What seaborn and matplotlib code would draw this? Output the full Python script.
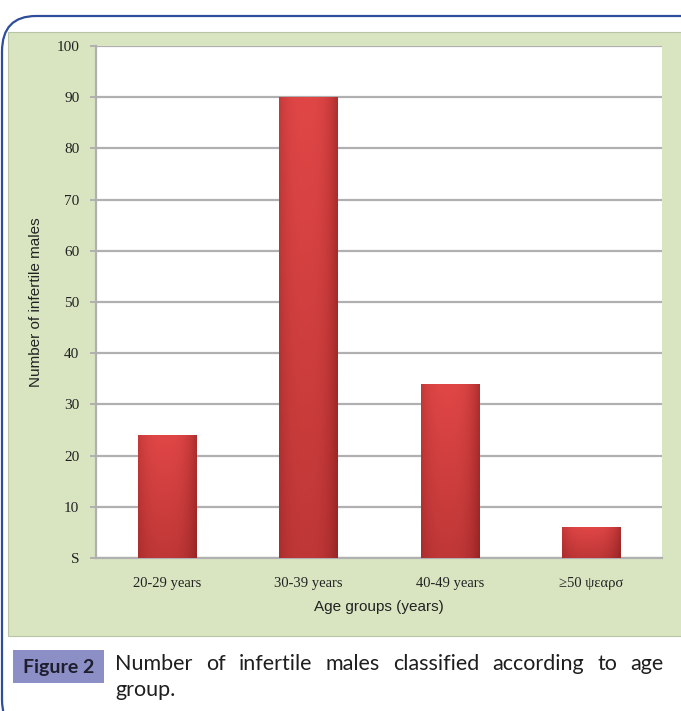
import numpy as np
import pandas as pd
import matplotlib
matplotlib.use("Agg")
import matplotlib.pyplot as plt
from matplotlib.patches import FancyBboxPatch, Rectangle
import seaborn as sns

# chart data
age_groups = ["20-29 years", "30-39 years", "40-49 years", "\u226550 \u03c8\u03b5\u03b1\u03c1\u03c3"]
infertile_males = [24, 90, 34, 6]
y_ticks = [0, 10, 20, 30, 40, 50, 60, 70, 80, 90, 100]
y_tick_labels = ["S", "10", "20", "30", "40", "50", "60", "70", "80", "90", "100"]

df = pd.DataFrame({"group": age_groups, "count": infertile_males})

sns.set_theme(style="white")
plt.rcParams["font.family"] = ["Liberation Serif", "DejaVu Serif"]

fig = plt.figure(figsize=(6.81, 7.11), dpi=100)
W, H = 681, 711

def fx(px):
    return px / W

def fy(py):
    return 1 - py / H

# outer rounded blue frame
frame = FancyBboxPatch((fx(2), fy(735)), fx(720), fy(16) - fy(735),
                       boxstyle="round,pad=0,rounding_size=0.05",
                       transform=fig.transFigure, facecolor="white",
                       edgecolor="#2e4d9c", linewidth=1.6, zorder=0)
fig.patches.append(frame)

# green chart panel
panel = Rectangle((fx(8), fy(636)), fx(690), fy(32) - fy(636),
                  transform=fig.transFigure, facecolor="#d9e5c1",
                  edgecolor="#b8c4a6", linewidth=0.8, zorder=1)
fig.patches.append(panel)

ax = fig.add_axes([fx(96), fy(558), fx(662) - fx(96), fy(46) - fy(558)])
ax.set_facecolor("white")
ax.set_zorder(2)

sns.barplot(data=df, x="group", y="count", color="#d63c3c", width=0.41,
            saturation=1, edgecolor="#a83030", linewidth=0.5, ax=ax, zorder=3)

# soft shading inside each bar (lighter top, darker bottom and sides)
gx = np.linspace(0, 1, 128)
gy = np.linspace(0, 1, 128)[:, np.newaxis]
side = 1 - 0.35 * (np.abs(gx - 0.45) / 0.55) ** 3
vert = 0.78 + 0.22 * gy
shade = side[np.newaxis, :] * vert
cmap = matplotlib.colors.LinearSegmentedColormap.from_list("bar", ["#8e2020", "#e04646"])
for p in ax.patches:
    x0, y0 = p.get_x(), p.get_y()
    w, h = p.get_width(), p.get_height()
    im = ax.imshow(shade, cmap=cmap, vmin=0.45, vmax=1.0, origin="lower",
                   extent=[x0, x0 + w, y0, y0 + h], aspect="auto", zorder=3.5,
                   interpolation="bilinear")
    im.set_clip_path(p)

ax.set_xlim(-0.5, 3.5)
ax.set_ylim(0, 100)
ax.set_yticks(y_ticks)
ax.set_yticklabels(y_tick_labels)
ax.yaxis.grid(True, color="#b0b0b0", linewidth=1.6, zorder=1)
ax.set_axisbelow(True)

for s in ["top", "right"]:
    ax.spines[s].set_visible(False)
for s in ["left", "bottom"]:
    ax.spines[s].set_color("#b0b0b0")
    ax.spines[s].set_linewidth(1.6)

ax.tick_params(axis="y", left=True, length=4, width=1.4, color="#b0b0b0",
               labelsize=11, pad=8, labelcolor="#222222")
ax.tick_params(axis="x", bottom=False, length=0, labelsize=10.5, pad=14,
               labelcolor="#222222")

ax.set_xlabel("Age groups (years)", fontfamily="Liberation Sans", fontsize=11,
              labelpad=7, color="#222222")
ax.set_ylabel("Number of infertile males", fontfamily="Liberation Sans", fontsize=11,
              labelpad=10, color="#222222")

# caption
tag = Rectangle((fx(13), fy(683)), fx(104) - fx(13), fy(650) - fy(683),
                transform=fig.transFigure, facecolor="#8c8ec6", edgecolor="none",
                zorder=4)
fig.patches.append(tag)
fig.text(fx(58.5), fy(667), "Figure 2", ha="center", va="center",
         fontfamily="Lato", fontweight="bold", fontsize=14, color="#1e1e2e",
         zorder=5)

# first caption line, justified between x=115 and x=664
words = "Number of infertile males classified according to age".split()
cap_kw = dict(ha="left", va="baseline", fontfamily="Lato", fontsize=15.5, color="#1e1e1e")
fig.canvas.draw()
renderer = fig.canvas.get_renderer()
texts = [fig.text(0, fy(670), w_, **cap_kw) for w_ in words]
widths = [t.get_window_extent(renderer).width for t in texts]
gap = (664 - 115 - sum(widths)) / (len(words) - 1)
xpos = 115
for t, wd in zip(texts, widths):
    t.set_x(fx(xpos))
    xpos += wd + gap
fig.text(fx(115), fy(696), "group.", **cap_kw)

fig.savefig("out.png", dpi=100)
